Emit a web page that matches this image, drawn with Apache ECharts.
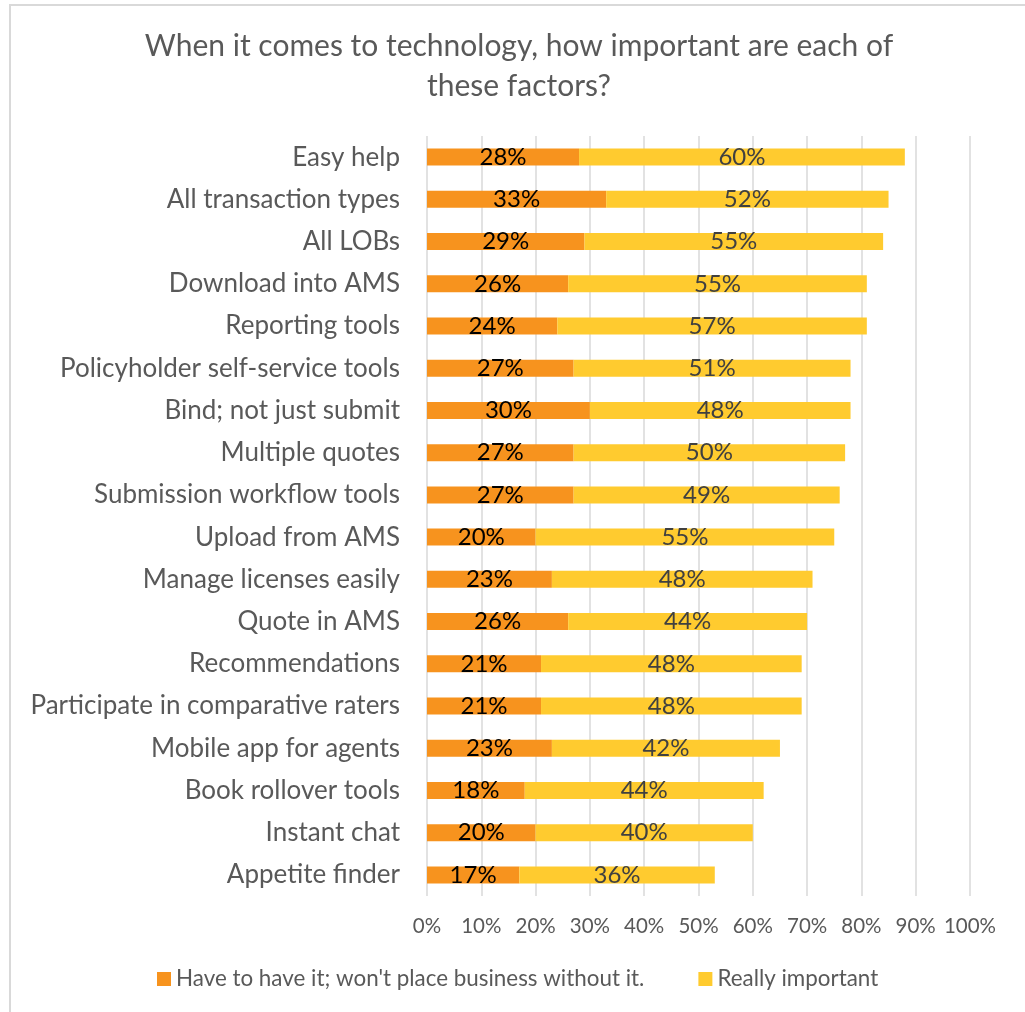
<!DOCTYPE html>
<html>
<head>
<meta charset="utf-8">
<style>
  html, body { margin: 0; padding: 0; background: #ffffff; }
  #chart { width: 1025px; height: 1012px; }
</style>
<script src="https://cdn.jsdelivr.net/npm/echarts@6/dist/echarts.min.js"></script>
</head>
<body>
<div id="chart"></div>
<script>
// Technology factors, top to bottom
const factors = [
  'Easy help',
  'All transaction types',
  'All LOBs',
  'Download into AMS',
  'Reporting tools',
  'Policyholder self-service tools',
  'Bind; not just submit',
  'Multiple quotes',
  'Submission workflow tools',
  'Upload from AMS',
  'Manage licenses easily',
  'Quote in AMS',
  'Recommendations',
  'Participate in comparative raters',
  'Mobile app for agents',
  'Book rollover tools',
  'Instant chat',
  'Appetite finder'
];

// Share of respondents (%) per factor
const mustHave = [28, 33, 29, 26, 24, 27, 30, 27, 27, 20, 23, 26, 21, 21, 23, 18, 20, 17];
const reallyImportant = [60, 52, 55, 55, 57, 51, 48, 50, 49, 55, 48, 44, 48, 48, 42, 44, 40, 36];

const seriesNames = ["Have to have it; won't place business without it.", 'Really important'];
const titleText = 'When it comes to technology, how important are each of\nthese factors?';

const FONT = 'Lato, "Open Sans", sans-serif';
const GREY = '#595959';

const chart = echarts.init(document.getElementById('chart'), null, { renderer: 'canvas' });

chart.setOption({
  backgroundColor: '#ffffff',
  animation: false,
  graphic: [{
    type: 'rect',
    shape: { x: 10, y: 5, width: 1100, height: 1100 },
    style: { fill: 'none', stroke: '#d9d9d9', lineWidth: 2 },
    silent: true
  }],
  title: {
    text: titleText,
    left: 514,
    textAlign: 'center',
    top: 21,
    textStyle: { fontFamily: FONT, fontSize: 30, fontWeight: 'normal', color: GREY, lineHeight: 40 }
  },
  legend: {
    left: 152,
    top: 963,
    icon: 'rect',
    itemWidth: 14,
    itemHeight: 14,
    itemGap: 54,
    textStyle: { fontFamily: FONT, fontSize: 22.4, color: GREY },
    data: seriesNames
  },
  grid: { left: 427, right: 55, top: 136, bottom: 116, containLabel: false },
  xAxis: {
    type: 'value',
    min: 0,
    max: 100,
    interval: 10,
    axisLine: { show: false },
    axisTick: { show: false },
    axisLabel: { formatter: '{value}%', fontFamily: FONT, fontSize: 20.5, color: GREY, margin: 20 },
    splitLine: { show: true, lineStyle: { color: '#d9d9d9', width: 1.5 } }
  },
  yAxis: {
    type: 'category',
    inverse: true,
    data: factors,
    axisLine: { show: false },
    axisTick: { show: false },
    axisLabel: { fontFamily: FONT, fontSize: 26, color: GREY, margin: 27 }
  },
  series: [
    {
      name: seriesNames[0],
      type: 'bar',
      stack: 'total',
      barWidth: 17,
      data: mustHave,
      itemStyle: { color: '#f7931e' },
      label: { show: true, position: 'inside', formatter: '{c}%', fontFamily: FONT, fontSize: 24, color: '#000000' }
    },
    {
      name: seriesNames[1],
      type: 'bar',
      stack: 'total',
      barWidth: 17,
      data: reallyImportant,
      itemStyle: { color: '#ffcb2f' },
      label: { show: true, position: 'inside', formatter: '{c}%', fontFamily: FONT, fontSize: 24, color: '#404040' }
    }
  ]
});
</script>
</body>
</html>
